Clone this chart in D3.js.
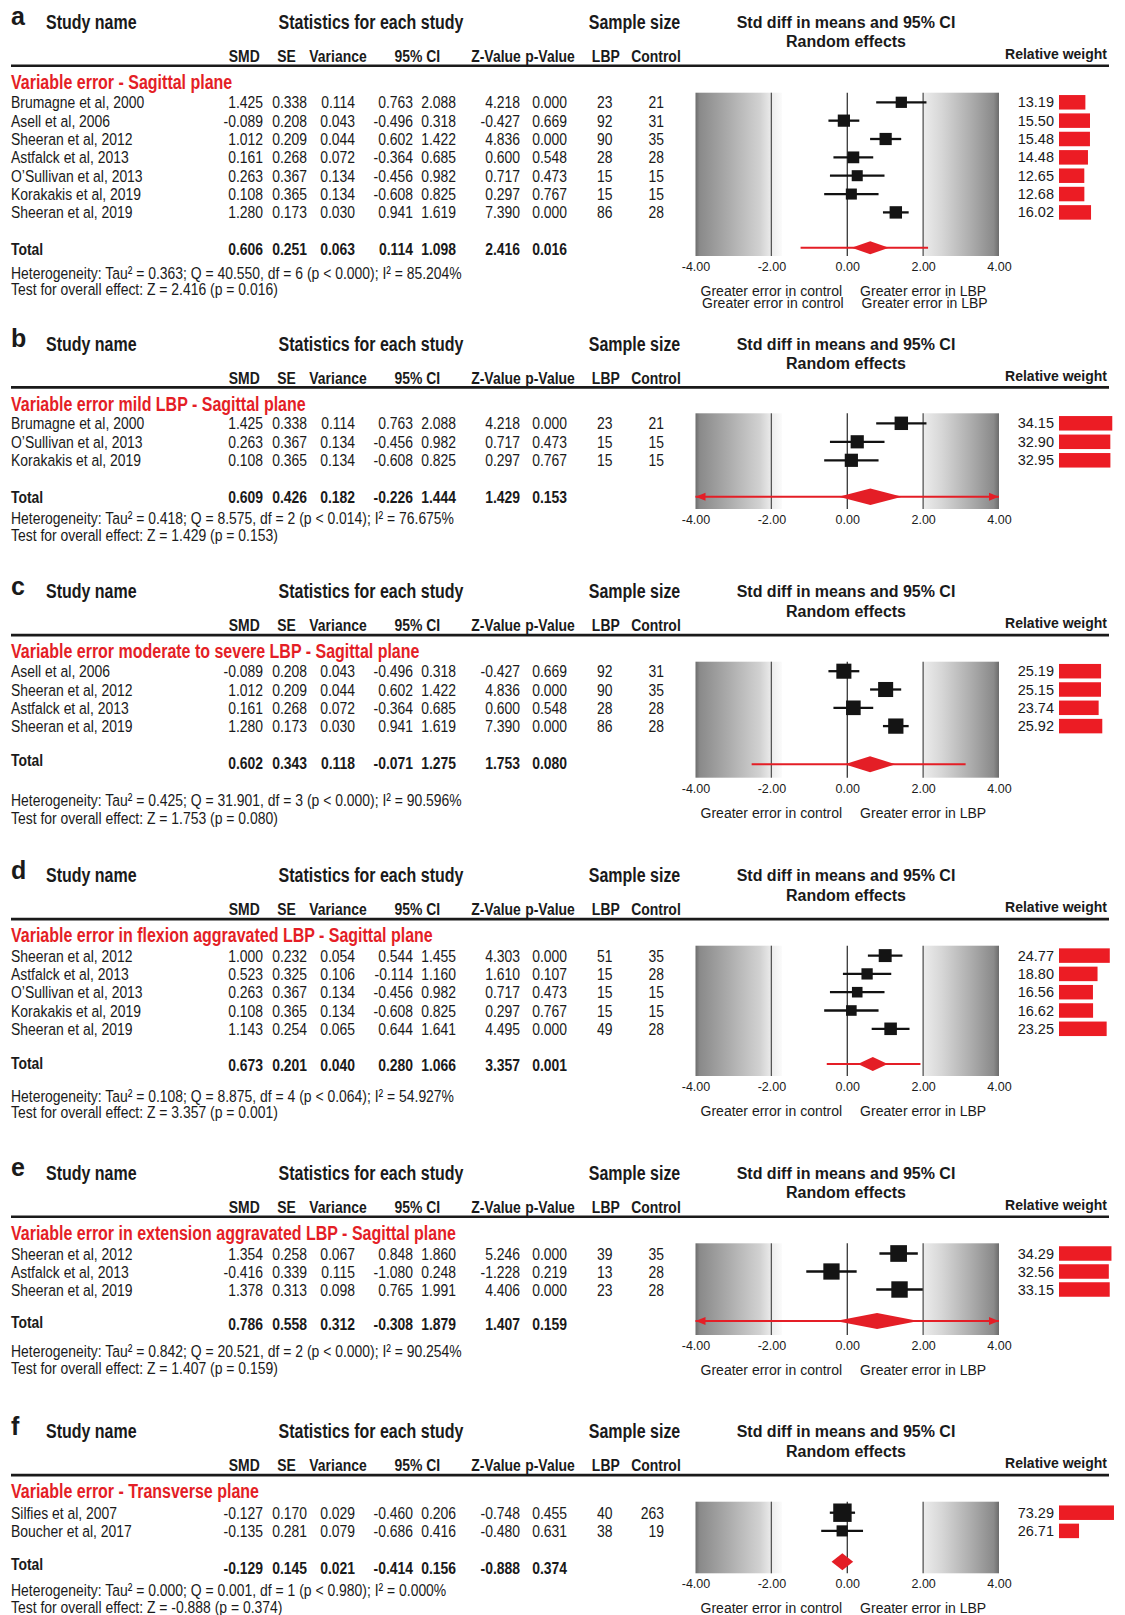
<!DOCTYPE html>
<html>
<head>
<meta charset="utf-8">
<script src="https://cdn.jsdelivr.net/npm/d3@7"></script>
<style>
  body { margin: 0; background: #fff; }
  svg { display: block; }
</style>
</head>
<body>
<div id="d3chart"></div>
<script>
// DATA ===========================================================================================
const panelLetters = ['a', 'b', 'c', 'd', 'e', 'f']
const panelTitles = [
  'Variable error - Sagittal plane',
  'Variable error mild LBP - Sagittal plane',
  'Variable error moderate to severe LBP - Sagittal plane',
  'Variable error in flexion aggravated LBP - Sagittal plane',
  'Variable error in extension aggravated LBP - Sagittal plane',
  'Variable error - Transverse plane'
]
const studyNames = [
  ['Brumagne et al, 2000', 'Asell et al, 2006', 'Sheeran et al, 2012', 'Astfalck et al, 2013', 'O’Sullivan et al, 2013', 'Korakakis et al, 2019', 'Sheeran et al, 2019'],
  ['Brumagne et al, 2000', 'O’Sullivan et al, 2013', 'Korakakis et al, 2019'],
  ['Asell et al, 2006', 'Sheeran et al, 2012', 'Astfalck et al, 2013', 'Sheeran et al, 2019'],
  ['Sheeran et al, 2012', 'Astfalck et al, 2013', 'O’Sullivan et al, 2013', 'Korakakis et al, 2019', 'Sheeran et al, 2019'],
  ['Sheeran et al, 2012', 'Astfalck et al, 2013', 'Sheeran et al, 2019'],
  ['Silfies et al, 2007', 'Boucher et al, 2017']
]
const smd = [
  [1.425, -0.089, 1.012, 0.161, 0.263, 0.108, 1.280],
  [1.425, 0.263, 0.108],
  [-0.089, 1.012, 0.161, 1.280],
  [1.000, 0.523, 0.263, 0.108, 1.143],
  [1.354, -0.416, 1.378],
  [-0.127, -0.135]
]
const se = [
  [0.338, 0.208, 0.209, 0.268, 0.367, 0.365, 0.173],
  [0.338, 0.367, 0.365],
  [0.208, 0.209, 0.268, 0.173],
  [0.232, 0.325, 0.367, 0.365, 0.254],
  [0.258, 0.339, 0.313],
  [0.170, 0.281]
]
const variance = [
  [0.114, 0.043, 0.044, 0.072, 0.134, 0.134, 0.030],
  [0.114, 0.134, 0.134],
  [0.043, 0.044, 0.072, 0.030],
  [0.054, 0.106, 0.134, 0.134, 0.065],
  [0.067, 0.115, 0.098],
  [0.029, 0.079]
]
const ciLow = [
  [0.763, -0.496, 0.602, -0.364, -0.456, -0.608, 0.941],
  [0.763, -0.456, -0.608],
  [-0.496, 0.602, -0.364, 0.941],
  [0.544, -0.114, -0.456, -0.608, 0.644],
  [0.848, -1.080, 0.765],
  [-0.460, -0.686]
]
const ciHigh = [
  [2.088, 0.318, 1.422, 0.685, 0.982, 0.825, 1.619],
  [2.088, 0.982, 0.825],
  [0.318, 1.422, 0.685, 1.619],
  [1.455, 1.160, 0.982, 0.825, 1.641],
  [1.860, 0.248, 1.991],
  [0.206, 0.416]
]
const zValue = [
  [4.218, -0.427, 4.836, 0.600, 0.717, 0.297, 7.390],
  [4.218, 0.717, 0.297],
  [-0.427, 4.836, 0.600, 7.390],
  [4.303, 1.610, 0.717, 0.297, 4.495],
  [5.246, -1.228, 4.406],
  [-0.748, -0.480]
]
const pValue = [
  [0.000, 0.669, 0.000, 0.548, 0.473, 0.767, 0.000],
  [0.000, 0.473, 0.767],
  [0.669, 0.000, 0.548, 0.000],
  [0.000, 0.107, 0.473, 0.767, 0.000],
  [0.000, 0.219, 0.000],
  [0.455, 0.631]
]
const nLBP = [
  [23, 92, 90, 28, 15, 15, 86],
  [23, 15, 15],
  [92, 90, 28, 86],
  [51, 15, 15, 15, 49],
  [39, 13, 23],
  [40, 38]
]
const nControl = [
  [21, 31, 35, 28, 15, 15, 28],
  [21, 15, 15],
  [31, 35, 28, 28],
  [35, 28, 15, 15, 28],
  [35, 28, 28],
  [263, 19]
]
const relWeight = [
  [13.19, 15.50, 15.48, 14.48, 12.65, 12.68, 16.02],
  [34.15, 32.90, 32.95],
  [25.19, 25.15, 23.74, 25.92],
  [24.77, 18.80, 16.56, 16.62, 23.25],
  [34.29, 32.56, 33.15],
  [73.29, 26.71]
]
// SMD, SE, Variance, CI low, CI high, Z, p
const totals = [
  [0.606, 0.251, 0.063, 0.114, 1.098, 2.416, 0.016],
  [0.609, 0.426, 0.182, -0.226, 1.444, 1.429, 0.153],
  [0.602, 0.343, 0.118, -0.071, 1.275, 1.753, 0.080],
  [0.673, 0.201, 0.040, 0.280, 1.066, 3.357, 0.001],
  [0.786, 0.558, 0.312, -0.308, 1.879, 1.407, 0.159],
  [-0.129, 0.145, 0.021, -0.414, 0.156, -0.888, 0.374]
]
// prediction interval (red line); b and e run past both ends
const predLow = [-1.23, -9.2, -2.52, -0.54, -12.8, null]
const predHigh = [2.13, 10.4, 3.12, 1.93, 14.4, null]
const heterogeneity = [
  'Heterogeneity: Tau² = 0.363; Q = 40.550, df = 6 (p < 0.000); I² = 85.204%',
  'Heterogeneity: Tau² = 0.418; Q = 8.575, df = 2 (p < 0.014); I² = 76.675%',
  'Heterogeneity: Tau² = 0.425; Q = 31.901, df = 3 (p < 0.000); I² = 90.596%',
  'Heterogeneity: Tau² = 0.108; Q = 8.875, df = 4 (p < 0.064); I² = 54.927%',
  'Heterogeneity: Tau² = 0.842; Q = 20.521, df = 2 (p < 0.000); I² = 90.254%',
  'Heterogeneity: Tau² = 0.000; Q = 0.001, df = 1 (p < 0.980); I² = 0.000%'
]
const overallTest = [
  'Test for overall effect: Z = 2.416 (p = 0.016)',
  'Test for overall effect: Z = 1.429 (p = 0.153)',
  'Test for overall effect: Z = 1.753 (p = 0.080)',
  'Test for overall effect: Z = 3.357 (p = 0.001)',
  'Test for overall effect: Z = 1.407 (p = 0.159)',
  'Test for overall effect: Z = -0.888 (p = 0.374)'
]
const columnHeaders = ['SMD', 'SE', 'Variance', '95% CI', 'Z-Value', 'p-Value', 'LBP', 'Control']
const xTicks = [-4, -2, 0, 2, 4]
const effectLabels = ['Greater error in control', 'Greater error in LBP']

// SET UP =========================================================================================
const width = 1125
const height = 1615
const RED = '#e41e26'
const INK = '#1a1a1a'
const SANS = "'Liberation Sans', Arial, sans-serif"

// per panel vertical placement and mark sizing
const layout = [
  {top: 22.3, row1: 102.3, step: 18.35, total: 248.7, totDy: 0, diaDy: -1, het: 272.7, test: 288.7, boxTop: 92.7, boxBot: 256, labels: 2, diaH: 13, sqK: 3.1, barK: 2.0},
  {top: 344, row1: 423.3, step: 18.5, total: 496.7, totDy: 0, diaDy: 0, het: 518.3, test: 535, boxTop: 413.3, boxBot: 509, labels: 0, diaH: 16.5, sqK: 2.3, barK: 1.56},
  {top: 591.7, row1: 671.2, step: 18.3, total: 763.3, totDy: -3, diaDy: 1, het: 800, test: 818.3, boxTop: 661.7, boxBot: 777.7, labels: 1, diaH: 16, sqK: 3.0, barK: 1.67},
  {top: 875.7, row1: 955.6, step: 18.3, total: 1065, totDy: -2.3, diaDy: -1, het: 1096, test: 1112.3, boxTop: 945.7, boxBot: 1076, labels: 1, diaH: 14, sqK: 2.6, barK: 2.05},
  {top: 1173.3, row1: 1253.5, step: 18, total: 1324, totDy: -2, diaDy: -3, het: 1350.6, test: 1368, boxTop: 1243.3, boxBot: 1335, labels: 1, diaH: 16, sqK: 2.85, barK: 1.53},
  {top: 1431.7, row1: 1512.7, step: 18.2, total: 1567.7, totDy: -3.4, diaDy: -6, het: 1590.3, test: 1607.3, boxTop: 1501.7, boxBot: 1573.3, labels: 1, diaH: 17, sqK: 2.15, barK: 0.75}
]

const valueRight = [263, 307, 355, 413, 456, 520, 567]
const nRight = [612.5, 664]
const headerCenter = [244.3, 286.6, 338, 417.3, 496, 550, 605.8, 656]

const loc = d3.formatLocale({decimal: '.', thousands: ',', grouping: [3], currency: ['', ''], minus: '-'})
const f3 = loc.format('.3f')
const f2 = loc.format('.2f')

// narrow font check, otherwise squeeze Liberation Sans
const hasNarrow = (() => {
  const c = document.createElement('canvas').getContext('2d')
  c.font = '40px monospace'
  const w0 = c.measureText('Brumagne et al, 2000').width
  c.font = "40px 'Liberation Sans Narrow', monospace"
  const w1 = c.measureText('Brumagne et al, 2000').width
  return Math.abs(w0 - w1) > 1
})()

function ntext(g, x, y, str, o = {}) {
  const t = g.append('text').text(str)
    .attr('font-size', o.size || 17)
    .attr('font-weight', o.bold ? 'bold' : 'normal')
    .attr('fill', o.fill || INK)
    .attr('text-anchor', o.anchor || 'start')
    .attr('dominant-baseline', 'central')
  if (hasNarrow) {
    t.attr('font-family', "'Liberation Sans Narrow', 'Arial Narrow', sans-serif").attr('x', x).attr('y', y)
  } else {
    t.attr('font-family', SANS).attr('transform', `translate(${x},${y}) scale(0.82,1)`)
  }
  return t
}

function wtext(g, x, y, str, o = {}) {
  return g.append('text').text(str)
    .attr('x', x).attr('y', y)
    .attr('font-family', SANS)
    .attr('font-size', o.size || 14)
    .attr('font-weight', o.bold ? 'bold' : 'normal')
    .attr('fill', o.fill || INK)
    .attr('text-anchor', o.anchor || 'middle')
    .attr('dominant-baseline', 'central')
}

const svg = d3.select('#d3chart')
  .append('svg')
  .attr('width', width)
  .attr('height', height)

const defs = svg.append('defs')
const gl = defs.append('linearGradient').attr('id', 'gradL')
gl.selectAll('stop')
  .data([[0, '#6c6c6c'], [0.05, '#8a8a8a'], [0.35, '#a8a8a8'], [0.75, '#d2d2d2'], [0.88, '#ececec'], [1, '#fbfbfb']])
  .join('stop').attr('offset', d => d[0]).attr('stop-color', d => d[1])
const gr = defs.append('linearGradient').attr('id', 'gradR')
gr.selectAll('stop')
  .data([[0, '#ececec'], [0.25, '#d6d6d6'], [0.6, '#b0b0b0'], [0.93, '#8a8a8a'], [1, '#6c6c6c']])
  .join('stop').attr('offset', d => d[0]).attr('stop-color', d => d[1])

// SCALES =========================================================================================
const x = d3.scaleLinear().domain([-4, 4]).range([695.5, 999])
const clampX = v => x(Math.max(-4, Math.min(4, v)))

// PANELS =========================================================================================
panelLetters.forEach((letter, p) => {
  const L = layout[p]
  const g = svg.append('g')
  const S = L.top

  // headers
  wtext(g, 11, S - 6, letter, {size: 25, bold: true, anchor: 'start'})
  ntext(g, 46, S, 'Study name', {size: 19.5, bold: true})
  ntext(g, 371, S, 'Statistics for each study', {size: 19.5, bold: true, anchor: 'middle'})
  ntext(g, 634.5, S, 'Sample size', {size: 19.5, bold: true, anchor: 'middle'})
  wtext(g, 846, S, 'Std diff in means and 95% CI', {size: 16, bold: true})
  wtext(g, 846, S + 19.4, 'Random effects', {size: 16, bold: true})
  wtext(g, 1107, S + 31.7, 'Relative weight', {size: 14, bold: true, anchor: 'end'})
  columnHeaders.forEach((h, i) => ntext(g, headerCenter[i], S + 33.7, h, {bold: true, anchor: 'middle'}))
  g.append('line')
    .attr('x1', 11).attr('x2', 1109)
    .attr('y1', S + 43.4).attr('y2', S + 43.4)
    .attr('stroke', INK).attr('stroke-width', 2.6)
  ntext(g, 11, S + 60, panelTitles[p], {size: 19.5, bold: true, fill: RED})

  // plot background
  g.append('rect')
    .attr('x', x(-4)).attr('width', x(-1.72) - x(-4))
    .attr('y', L.boxTop).attr('height', L.boxBot - L.boxTop)
    .attr('fill', 'url(#gradL)')
  g.append('rect')
    .attr('x', x(2)).attr('width', x(4) - x(2))
    .attr('y', L.boxTop).attr('height', L.boxBot - L.boxTop)
    .attr('fill', 'url(#gradR)')
  g.selectAll('.ref')
    .data([-2, 0, 2])
    .join('line')
      .attr('x1', d => x(d)).attr('x2', d => x(d))
      .attr('y1', L.boxTop).attr('y2', L.boxBot)
      .attr('stroke', d => d === 0 ? '#111' : '#555')
      .attr('stroke-width', d => d === 0 ? 1.1 : 1.3)

  const axis = g.append('g')
    .attr('transform', `translate(0, ${L.boxBot})`)
    .call(d3.axisBottom(x).tickValues(xTicks).tickFormat(f2).tickSize(0).tickPadding(6))
  axis.select('.domain').remove()
  axis.attr('font-family', SANS).attr('font-size', 12.5)
  axis.selectAll('text').attr('fill', INK)

  for (let k = 0; k < L.labels; k++) {
    wtext(g, x(-2) + k * 1.5, L.boxBot + 35 + k * 12, effectLabels[0])
    wtext(g, x(2) + k * 1.5, L.boxBot + 35 + k * 12, effectLabels[1])
  }

  // study rows
  const rows = studyNames[p].map((name, i) => ({
    name, y: L.row1 + i * L.step,
    smd: smd[p][i], se: se[p][i], v: variance[p][i], lo: ciLow[p][i], hi: ciHigh[p][i],
    z: zValue[p][i], pv: pValue[p][i], nl: nLBP[p][i], nc: nControl[p][i], w: relWeight[p][i]
  }))

  rows.forEach(r => {
    ntext(g, 11, r.y, r.name)
    const vals = [r.smd, r.se, r.v, r.lo, r.hi, r.z, r.pv]
    vals.forEach((v, j) => ntext(g, valueRight[j], r.y, f3(v), {anchor: 'end'}))
    ntext(g, nRight[0], r.y, r.nl, {anchor: 'end'})
    ntext(g, nRight[1], r.y, r.nc, {anchor: 'end'})
  })

  g.selectAll('.ci')
    .data(rows)
    .join('line')
      .attr('x1', d => clampX(d.lo)).attr('x2', d => clampX(d.hi))
      .attr('y1', d => d.y).attr('y2', d => d.y)
      .attr('stroke', '#111').attr('stroke-width', 2.3)
  g.selectAll('.sq')
    .data(rows)
    .join('rect')
      .attr('x', d => x(d.smd) - L.sqK * Math.sqrt(d.w) / 2)
      .attr('y', d => d.y - L.sqK * Math.sqrt(d.w) / 2)
      .attr('width', d => L.sqK * Math.sqrt(d.w))
      .attr('height', d => L.sqK * Math.sqrt(d.w))
      .attr('fill', '#141414')

  // relative weights
  const wx = d3.scaleLinear().domain([0, 100]).range([0, 100 * L.barK])
  rows.forEach(r => wtext(g, 1054, r.y, f2(r.w), {size: 14.5, anchor: 'end'}))
  g.selectAll('.bar')
    .data(rows)
    .join('rect')
      .attr('x', 1059)
      .attr('y', d => d.y - 7.25)
      .attr('width', d => wx(d.w))
      .attr('height', 14.5)
      .attr('fill', '#ec1c24')

  // total
  const T = totals[p]
  ntext(g, 11, L.total + L.totDy, 'Total', {bold: true})
  T.forEach((v, j) => ntext(g, valueRight[j], L.total, f3(v), {bold: true, anchor: 'end'}))
  ntext(g, 11, L.het, heterogeneity[p])
  ntext(g, 11, L.test, overallTest[p])

  const yd = L.total + L.diaDy
  if (predLow[p] !== null) {
    g.append('line')
      .attr('x1', clampX(predLow[p])).attr('x2', clampX(predHigh[p]))
      .attr('y1', yd).attr('y2', yd)
      .attr('stroke', RED).attr('stroke-width', 2)
    const arrows = []
    if (predLow[p] < -4) arrows.push(-1)
    if (predHigh[p] > 4) arrows.push(1)
    g.selectAll('.arrow')
      .data(arrows)
      .join('path')
        .attr('d', s => {
          const tip = x(4 * s)
          return `M${tip},${yd} L${tip - s * 10},${yd - 4} L${tip - s * 10},${yd + 4} Z`
        })
        .attr('fill', RED)
  }
  g.append('path')
    .attr('d', `M${x(T[3])},${yd} L${x(T[0])},${yd - L.diaH / 2} L${x(T[4])},${yd} L${x(T[0])},${yd + L.diaH / 2} Z`)
    .attr('fill', RED)
})
</script>
</body>
</html>
